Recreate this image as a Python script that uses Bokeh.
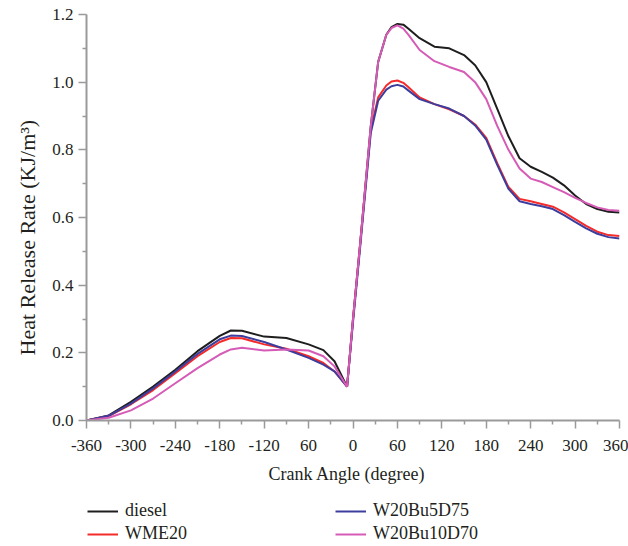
from bokeh.plotting import figure
from bokeh.layouts import column
from bokeh.models import (Range1d, FixedTicker, PrintfTickFormatter, Legend, LegendItem, Title)
from bokeh.embed import file_html
from bokeh.resources import INLINE

crank_angle = [-360, -330, -300, -270, -240, -210, -180, -165, -150, -120, -90, -60, -40, -25, -8,
               0, 10, 24, 34, 45, 52, 60, 68, 75, 90, 110, 130, 150, 165, 180, 195, 210, 225, 240, 255,
               270, 285, 300, 315, 330, 345, 360]

diesel = [0.0, 0.015, 0.055, 0.10, 0.15, 0.205, 0.25, 0.266, 0.265, 0.248, 0.244, 0.225, 0.208, 0.175, 0.10,
          0.30, 0.53, 0.87, 1.06, 1.14, 1.163, 1.172, 1.17, 1.158, 1.13, 1.105, 1.10, 1.08, 1.05, 1.0, 0.92, 0.84,
          0.775, 0.75, 0.735, 0.718, 0.695, 0.665, 0.64, 0.625, 0.617, 0.615]

wme20 = [0.0, 0.013, 0.048, 0.09, 0.14, 0.19, 0.232, 0.244, 0.243, 0.225, 0.212, 0.19, 0.17, 0.145, 0.10,
         0.30, 0.53, 0.86, 0.955, 0.99, 1.002, 1.005, 0.998, 0.985, 0.955, 0.935, 0.92, 0.90, 0.875, 0.835, 0.76, 0.69,
         0.655, 0.648, 0.64, 0.632, 0.615, 0.595, 0.575, 0.558, 0.548, 0.545]

w20bu5d75 = [0.0, 0.014, 0.05, 0.095, 0.145, 0.197, 0.24, 0.251, 0.25, 0.232, 0.21, 0.185, 0.165, 0.145, 0.10,
             0.29, 0.52, 0.85, 0.945, 0.978, 0.988, 0.992, 0.987, 0.975, 0.95, 0.935, 0.922, 0.90, 0.872, 0.83, 0.755, 0.685,
             0.648, 0.64, 0.633, 0.625, 0.607, 0.587, 0.568, 0.552, 0.542, 0.538]

w20bu10d70 = [0.0, 0.008, 0.03, 0.065, 0.11, 0.155, 0.195, 0.21, 0.215, 0.207, 0.21, 0.207, 0.19, 0.16, 0.10,
              0.30, 0.53, 0.87, 1.06, 1.14, 1.16, 1.168, 1.158, 1.14, 1.095, 1.062, 1.045, 1.03, 1.0, 0.95, 0.87, 0.80,
              0.745, 0.715, 0.705, 0.69, 0.675, 0.658, 0.643, 0.63, 0.622, 0.62]

series_names = ["diesel", "WME20", "W20Bu5D75", "W20Bu10D70"]
series_values = [diesel, wme20, w20bu5d75, w20bu10d70]
colors = ["#1e1e1e", "#f52a2a", "#3d3d9e", "#d65bb6"]

x_ticks = [-360, -300, -240, -180, -120, -60, 0, 60, 120, 180, 240, 300, 360]
x_tick_labels = ["-360", "-300", "-240", "-180", "-120", "60", "0", "60", "120", "180", "240", "300", "360"]
y_ticks = [0.0, 0.2, 0.4, 0.6, 0.8, 1.0, 1.2]

FONT = "Liberation Serif"
TXT = "#231f20"
AX = "#9a9a9a"

p = figure(width=628, height=498, output_backend="svg", toolbar_location=None,
           x_range=Range1d(-360, 360), y_range=Range1d(0, 1.2),
           min_border_left=86, min_border_right=9, min_border_top=14, min_border_bottom=78)
p.outline_line_color = None
p.xgrid.visible = False
p.ygrid.visible = False

for name, vals, c in zip(series_names, series_values, colors):
    p.line(crank_angle, vals, line_color=c, line_width=2)

for ax in (p.xaxis[0], p.yaxis[0]):
    ax.axis_line_color = AX
    ax.axis_line_width = 2
    ax.major_tick_line_color = AX
    ax.minor_tick_line_color = AX
    ax.major_tick_line_width = 1.5
    ax.minor_tick_line_width = 1.5
    ax.major_tick_out = 8
    ax.major_tick_in = 0
    ax.minor_tick_out = 4
    ax.minor_tick_in = 0
    ax.major_label_text_font = FONT
    ax.major_label_text_font_size = "17px"
    ax.major_label_text_color = TXT

p.xaxis[0].ticker = FixedTicker(ticks=x_ticks, minor_ticks=list(range(-330, 360, 60)))
p.xaxis[0].major_label_overrides = {t: l for t, l in zip(x_ticks, x_tick_labels)}
p.xaxis[0].major_label_standoff = 11

p.yaxis[0].ticker = FixedTicker(ticks=y_ticks, minor_ticks=[0.1, 0.3, 0.5, 0.7, 0.9, 1.1])
p.yaxis[0].formatter = PrintfTickFormatter(format="%.1f")
p.yaxis[0].major_label_standoff = 5

yt = Title(text="Heat Release Rate (KJ/m³)", align="left", offset=65,
           text_font=FONT, text_font_size="22px", text_font_style="normal",
           text_color=TXT, standoff=20)
p.add_layout(yt, "left")

xt = Title(text="Crank Angle (degree)", align="left", offset=182,
           text_font=FONT, text_font_size="18px", text_font_style="normal",
           text_color=TXT, standoff=16)
p.add_layout(xt, "below")

# legend panel underneath (its lines reuse the series, kept out of view)
lg = figure(width=628, height=48, output_backend="svg", toolbar_location=None,
            x_range=Range1d(-360, 360), y_range=Range1d(5, 6),
            x_axis_location=None, y_axis_location=None,
            min_border_left=0, min_border_right=0, min_border_top=0, min_border_bottom=0)
lg.outline_line_color = None
lg.xgrid.visible = False
lg.ygrid.visible = False
leg_renderers = [lg.line(crank_angle, vals, line_color=c, line_width=2)
                 for vals, c in zip(series_values, colors)]

legend = Legend(items=[LegendItem(label=n, renderers=[r]) for n, r in zip(series_names, leg_renderers)],
                location=(1, 2), orientation="vertical", nrows=2,
                padding=0, margin=0, spacing=2,
                glyph_width=31, glyph_height=20, label_standoff=7, label_width=208, label_height=20,
                label_text_font=FONT, label_text_font_size="18px", label_text_color=TXT,
                border_line_color=None, background_fill_alpha=0)
lg.add_layout(legend, "center")

layout = column(p, lg, spacing=0)
open("out.html", "w").write(file_html(layout, INLINE))
